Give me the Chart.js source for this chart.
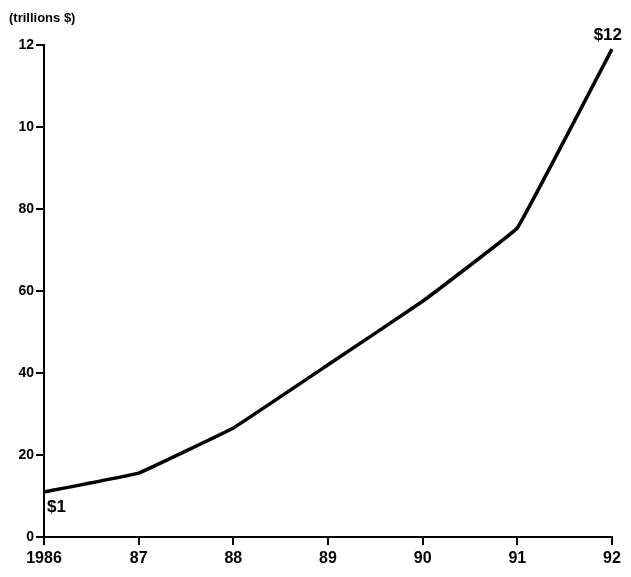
<!DOCTYPE html>
<html>
<head>
<meta charset="utf-8">
<script src="https://cdn.jsdelivr.net/npm/chart.js@4"></script>
<style>
  html, body { margin: 0; padding: 0; background: #fff; }
  #wrap { width: 631px; height: 577px; position: relative; }
</style>
</head>
<body>
<div id="wrap"><canvas id="c" width="631" height="577"></canvas></div>
<script>
const years = ['1986', '87', '88', '89', '90', '91', '92'];
const values = [1.1, 1.56, 2.66, 4.2, 5.75, 7.54, 11.9];
const pointLabels = ['$1', '', '', '', '', '', '$12'];
const yTickValues = [0, 2, 4, 6, 8, 10, 12];
const yTickLabels = ['0', '20', '40', '60', '80', '10', '12'];
const unitLabel = '(trillions $)';

const FONT = '"Liberation Sans", Arial, Helvetica, sans-serif';

const annot = {
  id: 'annot',
  afterDatasetsDraw(chart) {
    const ctx = chart.ctx;
    const meta = chart.getDatasetMeta(0);
    ctx.save();
    ctx.fillStyle = '#000';
    ctx.font = 'bold 17px ' + FONT;
    // first point label: below-right
    const p0 = meta.data[0];
    ctx.textAlign = 'left';
    ctx.textBaseline = 'top';
    ctx.fillText(pointLabels[0], p0.x + 3, p0.y + 7);
    // last point label: above-left
    const pl = meta.data[meta.data.length - 1];
    ctx.textAlign = 'right';
    ctx.textBaseline = 'bottom';
    ctx.fillText(pointLabels[pointLabels.length - 1], pl.x + 10, pl.y - 5);
    // unit label
    ctx.font = 'bold 13px ' + FONT;
    ctx.textAlign = 'left';
    ctx.textBaseline = 'middle';
    ctx.fillText(unitLabel, 9, 18);
    ctx.restore();
  }
};

new Chart(document.getElementById('c'), {
  type: 'line',
  data: {
    labels: years,
    datasets: [{
      data: values,
      borderColor: '#000',
      borderWidth: 3.5,
      pointRadius: 0,
      tension: 0.05,
      fill: false,
      clip: false
    }]
  },
  options: {
    responsive: false,
    animation: false,
    events: [],
    layout: { padding: { top: 45, right: 19, left: 0, bottom: 0 } },
    plugins: { legend: { display: false }, tooltip: { enabled: false } },
    scales: {
      x: {
        offset: false,
        grid: { display: true, drawOnChartArea: false, drawTicks: true, tickLength: 8, color: '#000', lineWidth: 2 },
        border: { display: true, color: '#000', width: 2 },
        ticks: { color: '#000', font: { family: FONT, size: 16, weight: 'bold' }, padding: 4, maxRotation: 0, autoSkip: false },
        afterFit(s) { s.height = 40; }
      },
      y: {
        min: 0, max: 12,
        afterBuildTicks(s) { s.ticks = yTickValues.map(v => ({ value: v })); },
        grid: { display: true, drawOnChartArea: false, drawTicks: true, tickLength: 8, color: '#000', lineWidth: 2 },
        border: { display: true, color: '#000', width: 2 },
        ticks: {
          color: '#000',
          font: { family: FONT, size: 14, weight: 'bold' },
          padding: 2,
          callback(v) { const i = yTickValues.indexOf(v); return i >= 0 ? yTickLabels[i] : ''; }
        },
        afterFit(s) { s.width = 44; }
      }
    }
  },
  plugins: [annot]
});
</script>
</body>
</html>
